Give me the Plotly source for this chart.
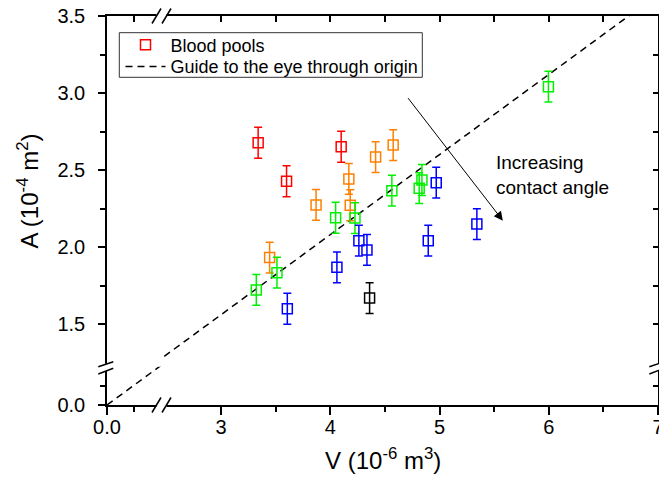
import plotly.graph_objects as go

# ---------------- data ----------------
red_v = [3.34, 3.60, 4.10]
red_a = [2.677, 2.427, 2.651]
red_err = [0.10, 0.10, 0.10]

orange_v = [3.87, 4.17, 4.415, 4.576, 4.183, 3.445]
orange_a = [2.273, 2.442, 2.584, 2.662, 2.271, 1.931]
orange_err = [0.10, 0.10, 0.10, 0.10, 0.10, 0.10]

green_v = [3.323, 3.512, 4.049, 4.226, 4.564, 4.814, 4.839, 5.997]
green_a = [1.721, 1.833, 2.190, 2.188, 2.366, 2.382, 2.435, 3.041]
green_err = [0.10, 0.10, 0.10, 0.10, 0.10, 0.10, 0.10, 0.10]

blue_v = [3.607, 4.061, 4.262, 4.336, 4.897, 4.970, 5.342]
blue_a = [1.599, 1.868, 2.041, 1.981, 2.041, 2.418, 2.149]
blue_err = [0.10, 0.10, 0.10, 0.10, 0.10, 0.10, 0.10]

black_v = [4.36]
black_a = [1.668]
black_err = [0.10]

guide_slope = 0.52
guide_v = [0.0, 7.0]

x_tick_vals = [3, 4, 5, 6, 7]
x_tick_text = ["3", "4", "5", "6", "7"]
y_tick_vals = [1.5, 2.0, 2.5, 3.0, 3.5]
y_tick_text = ["1.5", "2.0", "2.5", "3.0", "3.5"]

# ---------------- layout geometry ----------------
W, H = 659, 478
L, R, T, B = 107, 658, 16, 405
PW, PH = R - L, B - T


def px(xp):
    return (xp - L) / PW


def py(yp):
    return (B - yp) / PH


x_break, y_break = 163, 366.7
x1_range = [0, 0.512]
x2_range = [2.469, 7]
y1_range = [0, 0.2487]
y2_range = [1.2227, 3.5]

FONT = "Liberation Sans, Arial, sans-serif"

fig = go.Figure()

guide_a = [guide_slope * v for v in guide_v]
line_style = dict(color="black", width=1.5, dash="7px,5px")
fig.add_trace(go.Scatter(x=guide_v, y=guide_a, mode="lines", line=line_style,
                         xaxis="x", yaxis="y", showlegend=False, hoverinfo="skip"))
fig.add_trace(go.Scatter(x=guide_v, y=guide_a, mode="lines", line=line_style,
                         xaxis="x2", yaxis="y2", name="Guide to the eye through origin",
                         legend="legend2"))

series = [
    ("Blood pools", red_v, red_a, red_err, "#FF0000", True),
    ("Orange", orange_v, orange_a, orange_err, "#FF8000", False),
    ("Green", green_v, green_a, green_err, "#00F000", False),
    ("Blue", blue_v, blue_a, blue_err, "#0000FF", False),
    ("Black", black_v, black_a, black_err, "#000000", False),
]
for name, xs, ys, es, col, show in series:
    fig.add_trace(go.Scatter(
        x=xs, y=ys, mode="markers", name=name, showlegend=show, legend="legend",
        xaxis="x2", yaxis="y2",
        marker=dict(symbol="square-open", size=10, color=col, line=dict(width=1.5, color=col)),
        error_y=dict(type="data", array=es, visible=True, color=col, thickness=1.5, width=4),
    ))

# invisible helpers so the mirrored (top / right) axes are drawn
for xa, ya in (("x3", "y2"), ("x4", "y2"), ("x2", "y3"), ("x2", "y4")):
    fig.add_trace(go.Scatter(x=[x2_range[0] if xa != "x4" else 0], y=[1.3],
                             xaxis=xa, yaxis=ya, mode="markers",
                             marker=dict(opacity=0, size=1), showlegend=False,
                             hoverinfo="skip"))

axis_common = dict(showline=True, linecolor="black", linewidth=1.5, showgrid=False,
                   zeroline=False, tickcolor="black", tickwidth=1.5, automargin=False,
                   tickfont=dict(family=FONT, size=20, color="black"))

minor_common = dict(ticks="outside", ticklen=5, tickwidth=1.5, tickcolor="black")

fig.update_layout(
    width=W, height=H, autosize=False,
    margin=dict(l=L, r=W - R, t=T, b=H - B, pad=0, autoexpand=False),
    paper_bgcolor="white", plot_bgcolor="white",
    font=dict(family=FONT, size=18, color="black"),
    xaxis=dict(domain=[0, px(x_break)], range=x1_range, anchor="y",
               ticks="outside", ticklen=8, tickvals=[0], ticktext=["0.0"],
               ticklabelstandoff=-5, ticklabeloverflow="allow",
               minor=dict(tickvals=[0.25], **minor_common), **axis_common),
    xaxis2=dict(domain=[px(x_break), 1], range=x2_range, anchor="y",
                ticks="outside", ticklen=8, tickvals=x_tick_vals, ticktext=x_tick_text,
                ticklabelstandoff=-5, ticklabeloverflow="allow",
                minor=dict(tickvals=[3.5, 4.5, 5.5, 6.5], **minor_common), **axis_common),
    yaxis=dict(domain=[0, py(y_break)], range=y1_range, anchor="x",
               ticks="outside", ticklen=7, tickvals=[0], ticktext=["0.0"],
               ticklabelstandoff=9,
               minor=dict(tickvals=[0.125], **minor_common), **axis_common),
    yaxis2=dict(domain=[py(y_break), 1], range=y2_range, anchor="x",
                ticks="outside", ticklen=7, tickvals=y_tick_vals, ticktext=y_tick_text,
                ticklabelstandoff=9,
                minor=dict(tickvals=[1.75, 2.25, 2.75, 3.25], **minor_common), **axis_common),
    # mirrored top / right axes with inward ticks
    xaxis3=dict(overlaying="x2", anchor="y2", side="top", range=x2_range,
                ticks="inside", ticklen=6, tickvals=[3, 3.5, 4, 4.5, 5, 5.5, 6, 6.5],
                showticklabels=False, **axis_common),
    xaxis4=dict(overlaying="x", anchor="y2", side="top", range=x1_range,
                ticks="inside", ticklen=6, tickvals=[0.25],
                showticklabels=False, **axis_common),
    yaxis3=dict(overlaying="y2", anchor="x2", side="right", range=y2_range,
                ticks="inside", ticklen=5,
                tickvals=[1.5, 1.75, 2.0, 2.25, 2.5, 2.75, 3.0, 3.25],
                showticklabels=False, **axis_common),
    yaxis4=dict(overlaying="y", anchor="x2", side="right", range=y1_range,
                ticks="inside", ticklen=5, tickvals=[0.125],
                showticklabels=False, **axis_common),
    legend=dict(x=px(119.5), y=py(45), xanchor="left", yanchor="middle",
                bgcolor="rgba(0,0,0,0)", bordercolor="rgba(0,0,0,0)", borderwidth=1,
                font=dict(family=FONT, size=18, color="black"),
                itemwidth=40),
    legend2=dict(x=px(119.5), y=py(66.7), xanchor="left", yanchor="middle",
                 bgcolor="rgba(0,0,0,0)", bordercolor="rgba(0,0,0,0)", borderwidth=1,
                 font=dict(family=FONT, size=18, color="black"),
                 itemwidth=40),
    showlegend=True,
)

# axis titles and text
fig.add_annotation(text="A (10<sup>-4</sup> m<sup>2</sup>)", xref="paper", yref="paper",
                   x=px(28), y=py(191.5), textangle=-90, showarrow=False,
                   xanchor="center", yanchor="middle",
                   font=dict(family=FONT, size=24, color="black"))
fig.add_annotation(text="V (10<sup>-6</sup> m<sup>3</sup>)", xref="paper", yref="paper",
                   x=px(382.5), y=py(459), showarrow=False,
                   xanchor="center", yanchor="middle",
                   font=dict(family=FONT, size=24, color="black"))
fig.add_annotation(text="Increasing<br>contact angle", xref="x2", yref="y2",
                   x=5.50, y=2.468, showarrow=False, xanchor="left", yanchor="middle",
                   align="left", font=dict(family=FONT, size=19, color="black"))
fig.add_annotation(text="", xref="x2", yref="y2", x=5.58, y=2.171,
                   axref="x2", ayref="y2", ax=4.702, ay=2.976,
                   showarrow=True, arrowhead=2, arrowsize=1.8, arrowwidth=1,
                   arrowcolor="black", standoff=0, startstandoff=0)

# legend frame and axis break marks
shapes = [dict(type="rect", xref="paper", yref="paper",
               x0=px(119.3), y0=py(32.7), x1=px(422.3), y1=py(77.3),
               line=dict(color="#333333", width=1), layer="above")]


def seg(x0, y0, x1, y1, color="black", width=1.5):
    shapes.append(dict(type="line", xref="paper", yref="paper",
                       x0=px(x0), y0=py(y0), x1=px(x1), y1=py(y1),
                       line=dict(color=color, width=width), layer="above"))


def blank(x0, y0, x1, y1):
    shapes.append(dict(type="rect", xref="paper", yref="paper",
                       x0=px(x0), y0=py(y0), x1=px(x1), y1=py(y1),
                       fillcolor="white", line=dict(width=0), layer="above"))


for yb in (B, T):
    blank(156.5, yb - 3, 166.5, yb + 3)
    seg(152, yb + 7.5, 161, yb - 7.5)
    seg(162, yb + 7.5, 171, yb - 7.5)
for xb in (L, R):
    blank(xb - 3, 363.8, xb + 3, 371)
    seg(xb - 8.7, 366.7, xb + 6.3, 361.7)
    seg(xb - 8.7, 374, xb + 6.3, 368.3)

fig.update_layout(shapes=shapes)

fig.write_html("out.html", config={"displayModeBar": False},
               post_script="document.body.style.margin='0px';")
